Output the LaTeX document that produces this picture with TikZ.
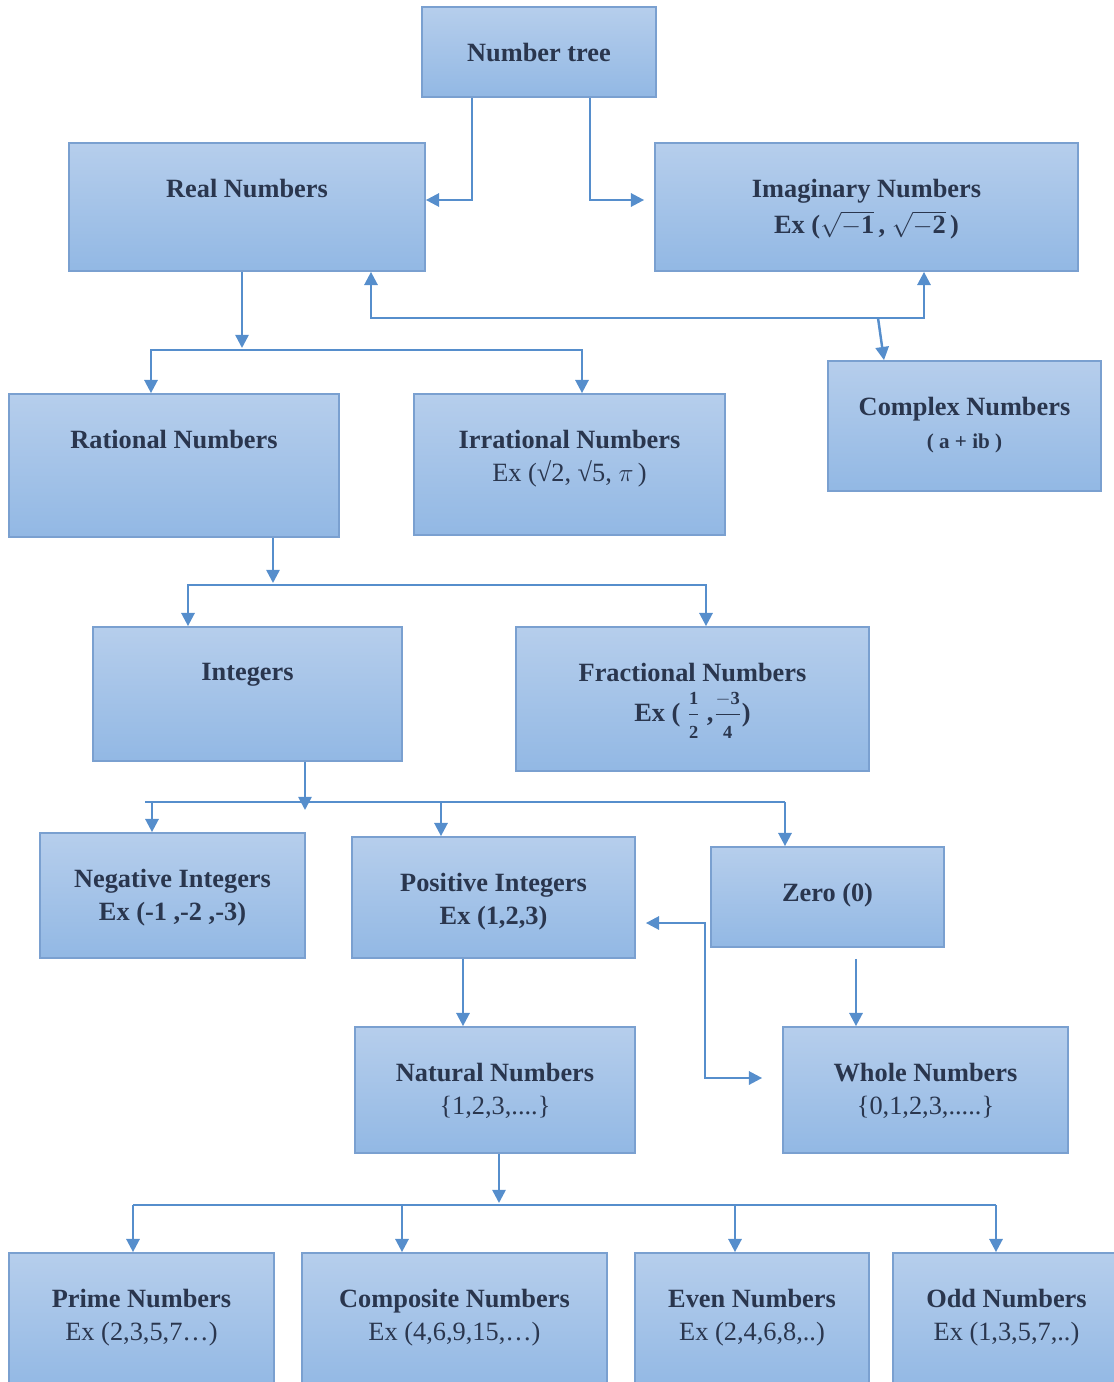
\documentclass[tikz,border=0pt]{standalone}
\usepackage{amsmath}
\usepackage{amssymb}
\usepackage{fontspec}
\setmainfont{Liberation Serif}
\usetikzlibrary{arrows.meta}
\definecolor{boxline}{RGB}{122,160,208}
\definecolor{boxtop}{RGB}{182,206,236}
\definecolor{boxbot}{RGB}{146,184,228}
\definecolor{linkblue}{RGB}{86,142,204}
\definecolor{txt}{RGB}{42,54,78}
\newlength{\px}
\setlength{\px}{0.02cm}
\newcommand{\boxtxt}[3]{\parbox[c][#2\px][t]{#1\px}{\centering\vspace*{0.72cm}#3}}
\tikzset{
  nbox/.style={draw=boxline, line width=1pt, top color=boxtop, bottom color=boxbot,
    inner sep=0pt, text=txt, font=\fontsize{15}{18.7}\selectfont\bfseries},
  link/.style={draw=linkblue, line width=1.4pt},
}

\begin{document}
\begin{tikzpicture}[x=0.02cm, y=-0.02cm, >={Triangle[width=7.5pt,length=7.5pt]}]
\useasboundingbox (0,0) rectangle (1113,1382);

\node[nbox] (top) at (539,52) {\boxtxt{234}{90}{Number tree}};
\node[nbox] (real) at (247,207) {\boxtxt{356}{128}{Real Numbers}};
\node[nbox] (imag) at (866.5,207) {\boxtxt{423}{128}{Imaginary Numbers\\[2pt]Ex ($\sqrt{\mathbf{-1}}$\,, $\sqrt{\mathbf{-2}}$\,)}};
\node[nbox] (cplx) at (964.5,426) {\boxtxt{273}{130}{Complex Numbers\\{\fontsize{12}{13}\selectfont ( a + ib )}}};
\node[nbox] (rat) at (174,465.5) {\boxtxt{330}{143}{Rational Numbers}};
\node[nbox] (irr) at (569.5,464.5) {\boxtxt{311}{141}{Irrational Numbers\\\mdseries Ex (√2, √5, $\pi$\,)}};
\node[nbox] (int) at (247.5,694) {\boxtxt{309}{134}{Integers}};
\node[nbox] (frac) at (692.5,699) {\boxtxt{353}{144}{Fractional Numbers\\[4pt]Ex ( $\dfrac{\scriptstyle\mathbf{1}}{\scriptstyle\mathbf{2}}$ ,$\dfrac{\scriptstyle\mathbf{-3}}{\scriptstyle\mathbf{4}}$)}};
\node[nbox] (neg) at (172.5,895.5) {\boxtxt{265}{125}{Negative Integers\\Ex (-1 ,-2 ,-3)}};
\node[nbox] (pos) at (493.5,897.5) {\boxtxt{283}{121}{Positive Integers\\Ex (1,2,3)}};
\node[nbox] (zero) at (827.5,897) {\boxtxt{233}{100}{Zero (0)}};
\node[nbox] (nat) at (495,1090) {\boxtxt{280}{126}{Natural Numbers\\\mdseries\{1,2,3,....\}}};
\node[nbox] (whole) at (925.5,1090) {\boxtxt{285}{126}{Whole Numbers\\\mdseries\{0,1,2,3,.....\}}};
\node[nbox] (prime) at (141.5,1321.5) {\boxtxt{265}{137}{Prime Numbers\\\mdseries Ex (2,3,5,7…)}};
\node[nbox] (comp) at (454.5,1321.5) {\boxtxt{305}{137}{Composite Numbers\\\mdseries Ex (4,6,9,15,…)}};
\node[nbox] (even) at (752,1321.5) {\boxtxt{234}{137}{Even Numbers\\\mdseries Ex (2,4,6,8,..)}};
\node[nbox] (odd) at (1006.5,1321.5) {\boxtxt{227}{137}{Odd Numbers\\\mdseries Ex (1,3,5,7,..)}};

% top level
\draw[link,->] (top.south -| 472,0) |- (real.east |- 0,200);
\draw[link,->,shorten >=0.2cm] (top.south -| 590,0) |- (imag.west |- 0,200);
\draw[link,<->] (real.south -| 371,0) -- (371,318) -- (924,318) -- (imag.south -| 924,0);
\coordinate (rc) at (878,318);
\draw[link,->] (rc) -- (cplx.north -| 884,0);

% real
\draw[link,->] (real.south -| 242,0) -- (242,348);
\draw[link,<->] (rat.north -| 151,0) -- (151,350) -- (582,350) -- (irr.north -| 582,0);

% rational
\draw[link,->] (rat.south -| 273,0) -- (273,583);
\draw[link,<->] (int.north -| 188,0) -- (188,585) -- (706,585) -- (frac.north -| 706,0);

% integers
\draw[link,->] (int.south -| 305,0) -- (305,810);
\draw[link] (145,802) -- (785,802);
\draw[link,->] (152,802) -- (neg.north -| 152,0);
\draw[link,->] (441,802) -- (pos.north -| 441,0);
\draw[link,->] (785,802) -- (zero.north -| 785,0);

\draw[link,->] (pos.south -| 463,0) -- (nat.north -| 463,0);
\draw[link,->,shorten <=0.22cm] (zero.south -| 856,0) -- (whole.north -| 856,0);
\draw[link,<->,shorten <=0.2cm,shorten >=0.4cm] (pos.east |- 0,923) -- (705,923) -- (705,1078) -- (whole.west |- 0,1078);

% natural
\draw[link,->] (nat.south -| 499,0) -- (499,1203);
\draw[link] (133,1205) -- (996,1205);
\draw[link,->] (133,1205) -- (prime.north -| 133,0);
\draw[link,->] (402,1205) -- (comp.north -| 402,0);
\draw[link,->] (735,1205) -- (even.north -| 735,0);
\draw[link,->] (996,1205) -- (odd.north -| 996,0);
\end{tikzpicture}
\end{document}
